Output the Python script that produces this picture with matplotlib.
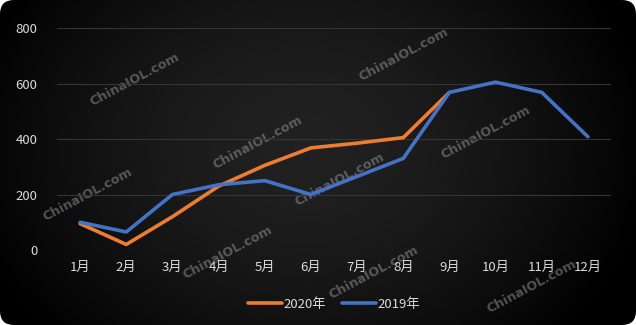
import numpy as np
import matplotlib.pyplot as plt
from matplotlib.patches import FancyBboxPatch

plt.rcParams['font.family'] = ['Noto Sans CJK SC', 'DejaVu Sans']

months = ['1月', '2月', '3月', '4月', '5月', '6月', '7月', '8月', '9月', '10月', '11月', '12月']
sales_2020 = [95, 20, 120, 230, 305, 368, 385, 405, 568]
sales_2019 = [100, 65, 200, 235, 250, 200, 265, 330, 568, 605, 568, 408]
yticks = [0, 200, 400, 600, 800]

# watermark centres in pixels (x from left, y from top)
marks = [(135, 80), (404, 55), (258, 143), (486, 133), (88, 195),
         (340, 180), (228, 253), (374, 273), (532, 287)]

W, H = 636, 325
fig = plt.figure(figsize=(W / 100, H / 100), dpi=100, facecolor='white')

# dark background with soft glow in the middle
bg = fig.add_axes([0, 0, 1, 1])
bg.set_xlim(0, W)
bg.set_ylim(H, 0)
bg.axis('off')
yy, xx = np.mgrid[0:H, 0:W]
r = np.sqrt(((xx - W * 0.48) / (W * 0.55)) ** 2 + ((yy - H * 0.45) / (H * 0.85)) ** 2)
shade = np.clip(0.13 * (1 - r ** 1.6), 0, 1)
img = np.dstack([shade, shade, shade * 1.02])
im = bg.imshow(np.clip(img, 0, 1), extent=[0, W, H, 0], aspect='auto', zorder=0)
clip = FancyBboxPatch((0, 0), W, H, boxstyle='round,pad=0,rounding_size=14',
                      transform=bg.transData, facecolor='none', edgecolor='none')
bg.add_patch(clip)
im.set_clip_path(clip)

for (mx, my) in marks:
    bg.text(mx, my, 'ChinaIOL.com', rotation=28, ha='center', va='center',
            fontsize=9.3, fontweight='bold', color='#9a9a9a', alpha=0.5,
            family='DejaVu Sans', zorder=5)

ax = fig.add_axes([57 / W, 1 - 250 / H, (611 - 57) / W, (250 - 28) / H])
ax.set_facecolor('none')
x = np.arange(len(months))
ax.plot(x[:len(sales_2020)], sales_2020, color='#ED7D31', lw=2.6, label='2020年',
        solid_capstyle='round', solid_joinstyle='round')
ax.plot(x, sales_2019, color='#4472C4', lw=2.6, label='2019年',
        solid_capstyle='round', solid_joinstyle='round')

ax.set_xlim(-0.5, 11.5)
ax.set_ylim(0, 800)
ax.set_yticks(yticks)
ax.set_xticks(x)
ax.set_xticklabels(months)
ax.grid(axis='y', color='#353535', lw=0.8)
ax.set_axisbelow(True)
for s in ax.spines.values():
    s.set_visible(False)
ax.tick_params(length=0, colors='#dcdcdc', labelsize=9.5)
ax.tick_params(axis='y', pad=14)
ax.tick_params(axis='x', pad=8)

leg = ax.legend(loc='center', bbox_to_anchor=(0.5, -0.245), ncol=2, frameon=False,
                fontsize=9.5, handlelength=2.6, columnspacing=1.2, handletextpad=0.1)
for t in leg.get_texts():
    t.set_color('#dcdcdc')

fig.savefig('out.png', dpi=100, facecolor='white')
